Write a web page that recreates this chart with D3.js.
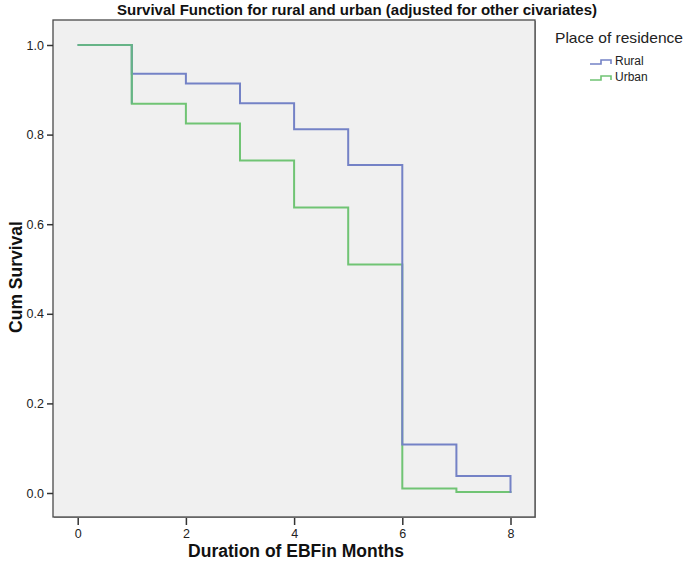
<!DOCTYPE html>
<html>
<head>
<meta charset="utf-8">
<script src="https://cdn.jsdelivr.net/npm/d3@7"></script>
<style>
  html, body { margin: 0; padding: 0; background: #ffffff; }
  svg { display: block; }
</style>
</head>
<body>
<div id="chart"></div>
<script>
// ---- data ----
const months = [0, 1, 2, 3, 4, 5, 6, 7, 8];
const ruralSurvival = [1.0, 0.936, 0.914, 0.870, 0.812, 0.732, 0.108, 0.038, 0.0];
const urbanSurvival = [1.0, 0.869, 0.825, 0.742, 0.637, 0.510, 0.010, 0.002, 0.0];
const seriesNames = ["Rural", "Urban"];
const seriesColors = ["#7482c6", "#70c474"];
const xTicks = [0, 2, 4, 6, 8];
const yTicks = [0.0, 0.2, 0.4, 0.6, 0.8, 1.0];
const titleText = "Survival Function for rural and urban (adjusted for other civariates)";
const xTitle = "Duration of EBFin Months";
const yTitle = "Cum Survival";
const legendTitle = "Place of residence";

const W = 685, H = 571;
const frame = { left: 53, top: 20, right: 535, bottom: 517 };

const svg = d3.select("#chart").append("svg")
  .attr("width", W).attr("height", H);

const x = d3.scaleLinear().domain([0, 8]).range([77.7, 510.5]);
const y = d3.scaleLinear().domain([0, 1]).range([493, 45]);

// plot frame
svg.append("rect")
  .attr("x", frame.left + 1).attr("y", frame.top + 1)
  .attr("width", frame.right - frame.left).attr("height", frame.bottom - frame.top)
  .attr("fill", "#9a9a9a");
svg.append("rect")
  .attr("x", frame.left).attr("y", frame.top)
  .attr("width", frame.right - frame.left).attr("height", frame.bottom - frame.top)
  .attr("fill", "#f0f0f0").attr("stroke", "#4a4a4a").attr("stroke-width", 1.3);

const font = "Arial, 'Liberation Sans', sans-serif";

// x axis
const xAxis = d3.axisBottom(x).tickValues(xTicks).tickFormat(d3.format("d"))
  .tickSize(7).tickPadding(4);
const gx = svg.append("g").attr("transform", `translate(0,${frame.bottom + 1})`).call(xAxis);
gx.select(".domain").remove();
gx.selectAll("line").attr("stroke", "#333").attr("stroke-width", 1.5);
gx.selectAll("text").attr("font-family", font).attr("font-size", 12.5).attr("fill", "#222");

// y axis
const yAxis = d3.axisLeft(y).tickValues(yTicks).tickFormat(d3.format(".1f"))
  .tickSize(6).tickPadding(3);
const gy = svg.append("g").attr("transform", `translate(${frame.left},0)`).call(yAxis);
gy.select(".domain").remove();
gy.selectAll("line").attr("stroke", "#333").attr("stroke-width", 1.5);
gy.selectAll("text").attr("font-family", font).attr("font-size", 12.5).attr("fill", "#222");

// lines
const line = d3.line()
  .x((d, i) => x(months[i]))
  .y(d => y(d))
  .curve(d3.curveStepAfter);

const seriesData = [ruralSurvival, urbanSurvival];
[1, 0].forEach(k => {
  svg.append("path")
    .datum(seriesData[k])
    .attr("fill", "none")
    .attr("stroke", seriesColors[k])
    .attr("stroke-width", 2)
    .attr("d", line);
});
// shared start segment where both series overlap
svg.append("path")
  .datum(urbanSurvival.slice(0, 2))
  .attr("fill", "none")
  .attr("stroke", "#66b487")
  .attr("stroke-width", 2)
  .attr("d", line);

// title
svg.append("text")
  .attr("x", 357).attr("y", 15)
  .attr("text-anchor", "middle")
  .attr("font-family", "'Liberation Sans Narrow', 'Arial Narrow', Arial, sans-serif")
  .attr("font-weight", "bold").attr("font-size", 15)
  .attr("textLength", 480).attr("lengthAdjust", "spacingAndGlyphs")
  .attr("fill", "#111")
  .text(titleText);

// axis titles
svg.append("text")
  .attr("x", 296).attr("y", 557)
  .attr("text-anchor", "middle")
  .attr("font-family", font).attr("font-weight", "bold").attr("font-size", 17.5)
  .attr("fill", "#111")
  .text(xTitle);

svg.append("text")
  .attr("transform", `translate(22,${y(0.5) + 8}) rotate(-90)`)
  .attr("text-anchor", "middle")
  .attr("font-family", font).attr("font-weight", "bold").attr("font-size", 17.5)
  .attr("fill", "#111")
  .text(yTitle);

// legend
svg.append("text")
  .attr("x", 555).attr("y", 43)
  .attr("font-family", font).attr("font-size", 14.5)
  .attr("textLength", 128).attr("lengthAdjust", "spacingAndGlyphs")
  .attr("fill", "#222")
  .text(legendTitle);

seriesNames.forEach((name, i) => {
  const ly = 64 + i * 16;
  const g = svg.append("g");
  g.append("path")
    .attr("d", `M590,${ly} H601 V${ly - 4} H611 V${ly}`)
    .attr("fill", "none").attr("stroke", seriesColors[i]).attr("stroke-width", 1.6);
  g.append("text")
    .attr("x", 615).attr("y", ly + 1)
    .attr("font-family", font).attr("font-size", 12)
    .attr("fill", "#222")
    .text(name);
});
</script>
</body>
</html>
